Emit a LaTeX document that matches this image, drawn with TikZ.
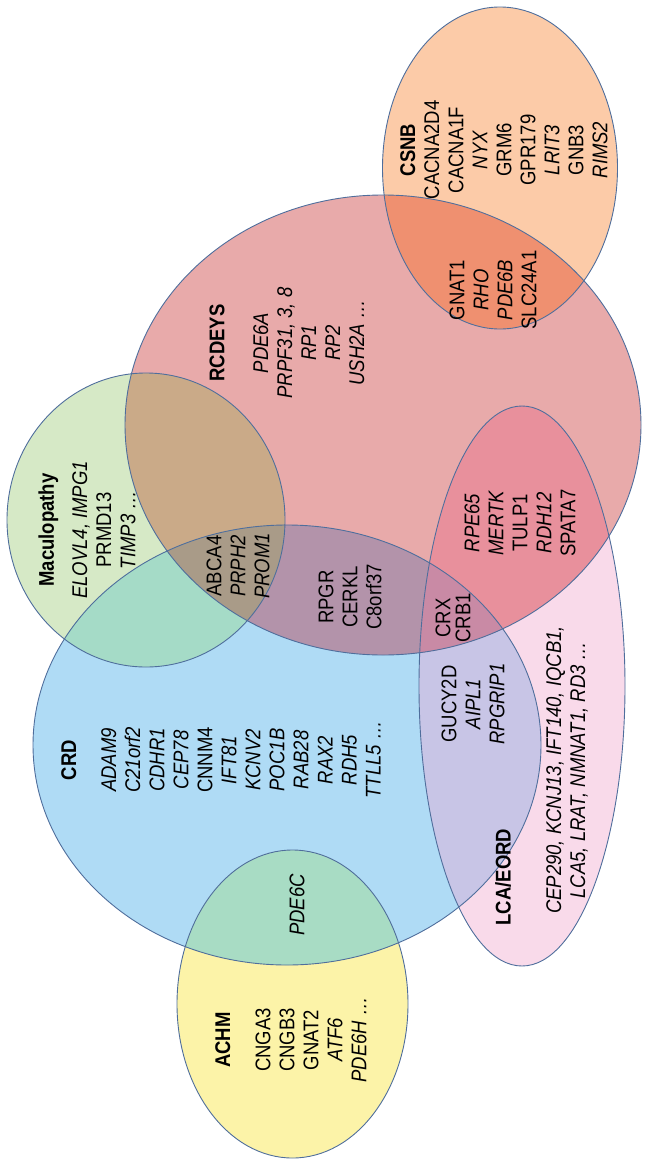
\documentclass[tikz,border=0pt]{standalone}
\usepackage{fontspec}
\setmainfont{Liberation Sans}

\definecolor{csnbc}{HTML}{FCCBA8}
\definecolor{rcdc}{HTML}{E8AAAA}
\definecolor{macc}{HTML}{D6E9C6}
\definecolor{crdc}{HTML}{AFDBF5}
\definecolor{lcac}{HTML}{F9DAEA}
\definecolor{achmc}{HTML}{FCF3A8}
\definecolor{csnbrcdc}{HTML}{EF9070}
\definecolor{macrcdc}{HTML}{CAAA88}
\definecolor{maccrdc}{HTML}{A5DBC7}
\definecolor{triplemacc}{HTML}{A99B88}
\definecolor{crdrcdc}{HTML}{B393AA}
\definecolor{crdlcac}{HTML}{C8C5E6}
\definecolor{rcdlcac}{HTML}{E8909C}
\definecolor{triplelcac}{HTML}{C98AA5}
\definecolor{crdachmc}{HTML}{A8DCC4}
\definecolor{rimc}{HTML}{4F6E9C}

\newcommand\csnbset{(500,168) ellipse [x radius=117.5pt, y radius=161pt]}
\newcommand\rcdset{(383,425) ellipse [x radius=258pt, y radius=230pt]}
\newcommand\macset{(146,520) ellipse [x radius=139pt, y radius=147pt]}
\newcommand\crdset{(287,745) ellipse [x radius=254pt, y radius=220pt]}
\newcommand\lcaset{(522,686) ellipse [x radius=103pt, y radius=280pt]}
\newcommand\achmset{(292.5,1004) ellipse [x radius=115.5pt, y radius=154pt]}
\newcommand\gn[1]{\textit{#1}}

\tikzset{
  genes/.style={rotate=90, yscale=1.15, align=center, inner sep=0pt,
    font=\fontsize{18.5}{20.9}\selectfont},
  rim/.style={draw=rimc, line width=0.9pt},
}

\begin{document}
\begin{tikzpicture}[x=1pt, y=-1pt]
    \useasboundingbox (0,0) rectangle (645,1159);
    % plain sets
    \fill[rcdc] \rcdset;
    \fill[csnbc] \csnbset;
    \fill[macc] \macset;
    \fill[crdc] \crdset;
    \fill[lcac] \lcaset;
    \fill[achmc] \achmset;
    % pairwise overlaps
    \begin{scope} \clip \csnbset; \fill[csnbrcdc] \rcdset; \end{scope}
    \begin{scope} \clip \crdset; \fill[crdrcdc] \rcdset; \end{scope}
    \begin{scope} \clip \macset; \fill[macrcdc] \rcdset; \end{scope}
    \begin{scope} \clip \macset; \fill[maccrdc] \crdset; \end{scope}
    \begin{scope} \clip \lcaset; \fill[crdlcac] \crdset; \end{scope}
    \begin{scope} \clip \lcaset; \fill[rcdlcac] \rcdset; \end{scope}
    \begin{scope} \clip \achmset; \fill[crdachmc] \crdset; \end{scope}
    % triple overlaps
    \begin{scope} \clip \macset; \clip \crdset; \fill[triplemacc] \rcdset; \end{scope}
    \begin{scope} \clip \lcaset; \clip \crdset; \fill[triplelcac] \rcdset; \end{scope}
    % outlines
    \draw[rim] \rcdset;
    \draw[rim] \csnbset;
    \draw[rim] \macset;
    \draw[rim] \crdset;
    \draw[rim] \lcaset;
    \draw[rim] \achmset;

    \node[genes] (csnbtxt) at (504,150) {\textbf{CSNB}\\ CACNA2D4\\ CACNA1F\\ \gn{NYX}\\ GRM6\\ GPR179\\ \gn{LRIT3}\\ GNB3\\ \gn{RIMS2}};
    \node[genes] (rhotxt) at (493,290) {GNAT1\\ \gn{RHO}\\ \gn{PDE6B}\\ SLC24A1};
    \node[genes] (rcdtxt) at (287,343) {\textbf{RCDEYS}\\[17pt] \gn{PDE6A}\\ \gn{PRPF31, 3, 8}\\ \gn{RP1}\\ \gn{RP2}\\ \gn{USH2A \ldots}};
    \node[genes] (mactxt) at (87,530) {\textbf{Maculopathy}\\[8pt] \gn{ELOVL4, IMPG1}\\ PRMD13\\ \gn{TIMP3 \ldots}};
    \node[genes] (abcatxt) at (238,566) {ABCA4\\ \gn{PRPH2}\\ \gn{PROM1}};
    \node[genes] (rpgrtxt) at (350,597) {RPGR\\ CERKL\\ C8orf37};
    \node[genes] (crxtxt) at (453,618) {CRX\\[-3.5pt] CRB1};
    \node[genes] (rpetxt) at (520,523) {\gn{RPE65}\\ \gn{MERTK}\\ TULP1\\ \gn{RDH12}\\ SPATA7};
    \node[genes] (gucytxt) at (473,704) {GUCY2D\\ \gn{AIPL1}\\ \gn{RPGRIP1}};
    \node[genes] (lcatitle) at (503,877) {\textbf{LCA/EORD}};
    \node[genes] (lcatxt) at (567,770) {\gn{CEP290, KCNJ13, IFT140, IQCB1,}\\ \gn{LCA5, LRAT, NMNAT1, RD3 \ldots}};
    \node[genes] (crdtxt) at (221,760) {\textbf{CRD}\\[14pt] \gn{ADAM9}\\ \gn{C21orf2}\\ \gn{CDHR1}\\ \gn{CEP78}\\ CNNM4\\ \gn{IFT81}\\ \gn{KCNV2}\\ \gn{POC1B}\\ \gn{RAB28}\\ \gn{RAX2}\\ \gn{RDH5}\\ \gn{TTLL5 \ldots}};
    \node[genes] (pdetxt) at (297,905) {\gn{PDE6C}};
    \node[genes] (achmtxt) at (291,1040) {\textbf{ACHM}\\[14pt] CNGA3\\ CNGB3\\ GNAT2\\ \gn{ATF6}\\ \gn{PDE6H \ldots}};
\end{tikzpicture}
\end{document}
